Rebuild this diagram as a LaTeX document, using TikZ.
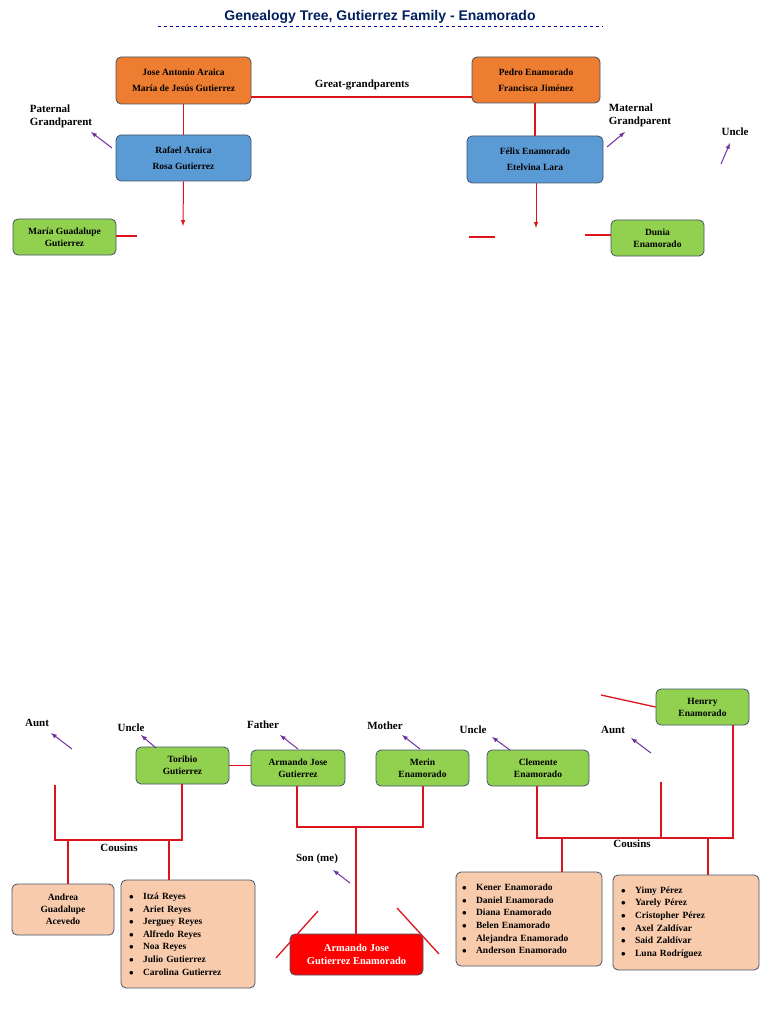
\documentclass[tikz,border=0pt]{standalone}
\usepackage{fontspec}
\setmainfont{Liberation Serif}
\newfontfamily\titlefont{Liberation Sans}
\definecolor{lnred}{RGB}{220,20,30}
\definecolor{arrv}{RGB}{112,48,160}
\begin{document}
\begin{tikzpicture}[x=1pt,y=-1pt,
 box/.style={draw={rgb,255:red,68;green,84;blue,106},line width=0.8pt,rounded corners=5pt,inner sep=0pt,align=center,font=\bfseries\fontsize{9.5}{12}\selectfont},
 rl/.style={draw=lnred,line width=1.3pt},
 pa/.style={draw=arrv,line width=1pt,-latex},
 lab/.style={font=\bfseries\fontsize{11}{13}\selectfont,align=left}]
\useasboundingbox (0,0) rectangle (768,1024);
\tikzset{gr/.style={box,fill={rgb,255:red,146;green,208;blue,80}},
 og/.style={box,fill={rgb,255:red,237;green,125;blue,49}},
 bl/.style={box,fill={rgb,255:red,91;green,155;blue,213}},
 pe/.style={box,fill={rgb,255:red,248;green,203;blue,173}},
 li/.style={pe,align=left,font=\bfseries\fontsize{9.5}{12.6}\selectfont}}
\node[font=\titlefont\bfseries\fontsize{14}{16}\selectfont,text={rgb,255:red,0;green,32;blue,96}] (title) at (380,17) {Genealogy Tree, Gutierrez Family - Enamorado};
\draw[dashed,blue!70!black] (158,26) -- (603,26);
% top
\node[og,minimum width=135,minimum height=47] (ja) at (183.5,80.5) {Jose Antonio Araica\\[4pt]María de Jesús Gutierrez};
\node[og,minimum width=128,minimum height=46] (pe) at (536,80) {Pedro Enamorado\\[4pt]Francisca Jiménez};
\node[bl,minimum width=135,minimum height=46] (ra) at (183.5,158) {Rafael Araica\\[4pt]Rosa Gutierrez};
\node[bl,minimum width=136,minimum height=47] (fe) at (535,159.5) {Félix Enamorado\\[4pt]Etelvina Lara};
\node[gr,minimum width=103,minimum height=36] (mg) at (64.5,237) {María Guadalupe\\Gutierrez};
\node[gr,minimum width=93,minimum height=36] (du) at (657.5,238) {Dunia\\Enamorado};
\coordinate (jaR) at (251,97); \coordinate (peL) at (472,97);
\draw[rl] (jaR) -- (peL);
\node[lab] (gg) at (362,85) {Great-grandparents};
\draw[rl] (ja.south) -- (ra.north);
\draw[rl] (pe.south -| fe.north) -- (fe.north);
\coordinate (a1) at (183,226); \coordinate (a2) at (536,228);
\draw[rl,line width=1pt,-latex] (ra.south) -- (a1);
\draw[rl,line width=1pt,-latex] (fe.south -| a2) -- (a2);
\coordinate (m1) at (137,236); \coordinate (d1) at (585,235);
\coordinate (x1) at (469,237); \coordinate (x2) at (495,237);
\draw[rl] (mg.east |- m1) -- (m1);
\draw[rl] (x1) -- (x2);
\draw[rl,line width=2pt] (d1) -- (du.west |- d1);
\node[lab] (pg) at (61,116) {Paternal\\Grandparent};
\node[lab] (mgp) at (640,115) {Maternal\\Grandparent};
\node[lab] (un1) at (735,132) {Uncle};
\coordinate (p1) at (112,148); \coordinate (p2) at (91,132);
\coordinate (p3) at (607,147); \coordinate (p4) at (625,132);
\coordinate (p5) at (721,164); \coordinate (p6) at (730,143);
\draw[pa] (p1) -- (p2); \draw[pa] (p3) -- (p4); \draw[pa] (p5) -- (p6);
% bottom
\node[gr,minimum width=93,minimum height=37] (to) at (182.5,765.5) {Toribio\\Gutierrez};
\node[gr,minimum width=94,minimum height=36] (af) at (298,768) {Armando Jose\\Gutierrez};
\node[gr,minimum width=93,minimum height=36] (me) at (422.5,768) {Merin\\Enamorado};
\node[gr,minimum width=102,minimum height=36] (cl) at (538,768) {Clemente\\Enamorado};
\node[gr,minimum width=93,minimum height=36] (he) at (702.5,707) {Henrry\\Enamorado};
\node[pe,minimum width=102,minimum height=51] (an) at (63,909.5) {Andrea\\Guadalupe\\Acevedo};
\node[li,minimum width=134,minimum height=108,text width=118] (it) at (188,934) {%
$\bullet$\quad Itzá Reyes\\$\bullet$\quad Ariet Reyes\\$\bullet$\quad Jerguey Reyes\\$\bullet$\quad Alfredo Reyes\\$\bullet$\quad Noa Reyes\\$\bullet$\quad Julio Gutierrez\\$\bullet$\quad Carolina Gutierrez};
\node[li,minimum width=146,minimum height=94,text width=134] (ke) at (529,919) {%
$\bullet$\quad Kener Enamorado\\$\bullet$\quad Daniel Enamorado\\$\bullet$\quad Diana Enamorado\\$\bullet$\quad Belen Enamorado\\$\bullet$\quad Alejandra Enamorado\\$\bullet$\quad Anderson Enamorado};
\node[li,minimum width=146,minimum height=95,text width=130] (yi) at (686,922.5) {%
$\bullet$\quad Yimy Pérez\\$\bullet$\quad Yarely Pérez\\$\bullet$\quad Cristopher Pérez\\$\bullet$\quad Axel Zaldívar\\$\bullet$\quad Said Zaldívar\\$\bullet$\quad Luna Rodríguez};
\node[box,fill=red,text=white,minimum width=133,minimum height=41,font=\bfseries\fontsize{10.5}{13}\selectfont] (so) at (356.5,954.5) {Armando Jose\\Gutierrez Enamorado};
\draw[rl] (to.east) -- (af.west |- to.east);
\coordinate (h0) at (601,695);
\draw[rl] (h0) -- (he.west);
\coordinate (f1) at (297,827); \coordinate (f2) at (423,827); \coordinate (f3) at (356,827);
\draw[rl,line width=1.8pt] (af.south -| f1) -- (f1) -- (f2) -- (me.south -| f2);
\draw[rl] (f3) -- (so.north -| f3);
\coordinate (l0) at (55,785); \coordinate (l1) at (55,840); \coordinate (l2) at (182,840);
\coordinate (l3) at (68,840); \coordinate (l4) at (169,840);
\draw[rl] (l0) -- (l1) -- (l2) -- (to.south -| l2);
\draw[rl] (l3) -- (an.north -| l3);
\draw[rl] (l4) -- (it.north -| l4);
\coordinate (r1) at (537,838); \coordinate (r2) at (733,838); \coordinate (r3) at (661,782); \coordinate (r4) at (661,838);
\coordinate (r5) at (562,838); \coordinate (r6) at (708,838);
\draw[rl] (cl.south -| r1) -- (r1) -- (r2) -- (he.south -| r2);
\draw[rl] (r3) -- (r4);
\draw[rl] (r5) -- (ke.north -| r5);
\draw[rl] (r6) -- (yi.north -| r6);
\coordinate (d1) at (318,911); \coordinate (d2) at (276,958);
\coordinate (d3) at (397,908); \coordinate (d4) at (439,954);
\draw[rl] (d1) -- (d2); \draw[rl] (d3) -- (d4);
\node[lab] (c1) at (119,848) {Cousins};
\node[lab] (c2) at (632,844) {Cousins};
\node[lab] (so1) at (317,859) {Son (me)};
\node[lab] (au1) at (37,723) {Aunt};
\node[lab] (un2) at (131,728) {Uncle};
\node[lab] (fa) at (263,725) {Father};
\node[lab] (mo) at (385,726) {Mother};
\node[lab] (un3) at (473,730) {Uncle};
\node[lab] (au2) at (613,730) {Aunt};
\foreach \a/\b/\c/\d in {72/749/51/733,156/748/141/735,298/749/280/735,420/749/402/735,510/750/492/737,651/753/631/738,350/883/333/870}
  \draw[pa] (\a,\b) -- (\c,\d);
\end{tikzpicture}
\end{document}
